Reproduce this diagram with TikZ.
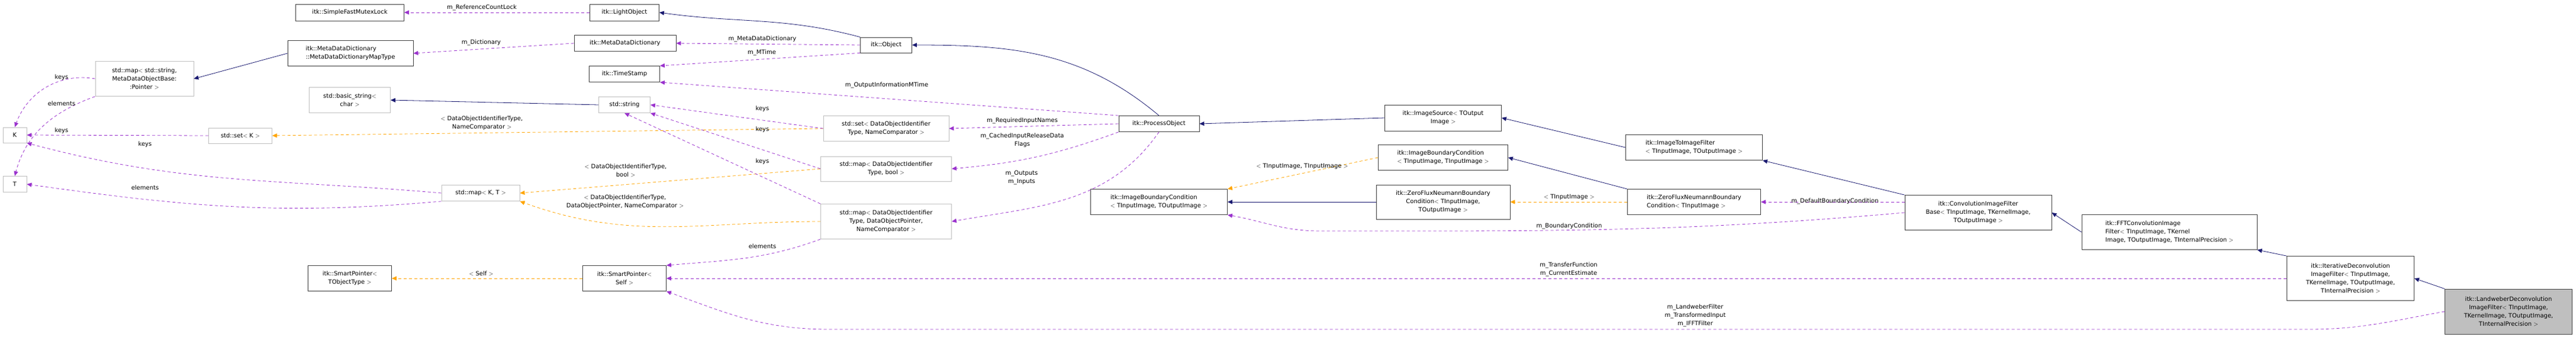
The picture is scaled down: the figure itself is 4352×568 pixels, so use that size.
\documentclass[tikz,border=0pt]{standalone}
\usepackage{fontspec}
\setmainfont{DejaVu Sans}
\usetikzlibrary{arrows.meta}
\definecolor{inhcol}{HTML}{191970}
\definecolor{usecol}{HTML}{9A32CD}
\definecolor{tplcol}{HTML}{FFA500}
\definecolor{boxgray}{HTML}{BFBFBF}
\tikzset{>={Triangle[length=8pt,width=7pt]},
  cls/.style={draw=black!75, line width=0.8pt, fill=white, inner sep=2pt,
    align=center, font=\fontsize{10}{14}\selectfont},
  ext/.style={cls, draw=boxgray},
  self/.style={cls, fill=boxgray},
  inh/.style={->, draw=inhcol, line width=0.8pt},
  use/.style={->, draw=usecol, dashed, line width=0.8pt, dash pattern=on 5pt off 4pt},
  tpl/.style={->, draw=tplcol, dashed, line width=0.8pt, dash pattern=on 5pt off 4pt},
  lbl/.style={align=center, font=\fontsize{10}{14}\selectfont, inner sep=1pt}}

\begin{document}
\begin{tikzpicture}[x=1pt,y=-1pt]
  \useasboundingbox (0,0) rectangle (4352,568);

  % classes
  \node [cls, minimum width=183, minimum height=28] (mutex) at (591,21) {itk::SimpleFastMutexLock};
  \node [cls, minimum width=117, minimum height=28] (lightobj) at (1055,21) {itk::LightObject};
  \node [cls, minimum width=212, minimum height=43, align=left] (maptype) at (592,90) {itk::MetaDataDictionary\\::MetaDataDictionaryMapType};
  \node [cls, minimum width=172, minimum height=27] (mdd) at (1056,73) {itk::MetaDataDictionary};
  \node [ext, minimum width=166, minimum height=59] (mapmdob) at (244,133) {std::map$<$ std::string,\\MetaDataObjectBase:\\:Pointer $>$};
  \node [cls, minimum width=119, minimum height=27] (timestamp) at (1055,125) {itk::TimeStamp};
  \node [cls, minimum width=87, minimum height=26] (object) at (1497,76) {itk::Object};
  \node [ext, minimum width=137, minimum height=43] (basicstr) at (591,169) {std::basic\_string$<$\\char $>$};
  \node [ext, minimum width=87, minimum height=27] (stdstring) at (1055,177) {std::string};
  \node [ext, minimum width=40, minimum height=26] (K) at (25,228) {K};
  \node [ext, minimum width=40, minimum height=27] (T) at (25,311) {T};
  \node [ext, minimum width=107, minimum height=26] (setK) at (406,229) {std::set$<$ K $>$};
  \node [ext, minimum width=212, minimum height=43] (setdoi) at (1497,217) {std::set$<$ DataObjectIdentifier\\Type, NameComparator $>$};
  \node [ext, minimum width=221, minimum height=42] (mapbool) at (1497,285) {std::map$<$ DataObjectIdentifier\\Type, bool $>$};
  \node [ext, minimum width=221, minimum height=59] (mapptr) at (1497,374) {std::map$<$ DataObjectIdentifier\\Type, DataObjectPointer,\\NameComparator $>$};
  \node [ext, minimum width=132, minimum height=27] (mapKT) at (812,326) {std::map$<$ K, T $>$};
  \node [cls, minimum width=141, minimum height=43] (sptobj) at (591,470) {itk::SmartPointer$<$\\TObjectType $>$};
  \node [cls, minimum width=141, minimum height=43] (spself) at (1055,470) {itk::SmartPointer$<$\\Self $>$};
  \node [cls, minimum width=136, minimum height=27] (procobj) at (1958,209) {itk::ProcessObject};
  \node [cls, minimum width=231, minimum height=43, align=left] (ibcout) at (1958,341) {itk::ImageBoundaryCondition\\$<$ TInputImage, TOutputImage $>$};
  \node [cls, minimum width=197, minimum height=44] (imgsrc) at (2438,199) {itk::ImageSource$<$ TOutput\\Image $>$};
  \node [cls, minimum width=219, minimum height=43, align=left] (ibcin) at (2438,266) {itk::ImageBoundaryCondition\\$<$ TInputImage, TInputImage $>$};
  \node [cls, minimum width=226, minimum height=58] (zfnout) at (2438,341) {itk::ZeroFluxNeumannBoundary\\Condition$<$ TInputImage,\\TOutputImage $>$};
  \node [cls, minimum width=231, minimum height=43, align=left] (i2i) at (2862,249) {itk::ImageToImageFilter\\$<$ TInputImage, TOutputImage $>$};
  \node [cls, minimum width=225, minimum height=43, align=left] (zfnin) at (2862,341) {itk::ZeroFluxNeumannBoundary\\Condition$<$ TInputImage $>$};
  \node [cls, minimum width=248, minimum height=59] (conv) at (3342,359) {itk::ConvolutionImageFilter\\Base$<$ TInputImage, TKernelImage,\\TOutputImage $>$};
  \node [cls, minimum width=296, minimum height=59, align=left] (fft) at (3665,392) {itk::FFTConvolutionImage\\Filter$<$ TInputImage, TKernel\\Image, TOutputImage, TInternalPrecision $>$};
  \node [cls, minimum width=215, minimum height=75] (iter) at (3971,470) {itk::IterativeDeconvolution\\ImageFilter$<$ TInputImage,\\TKernelImage, TOutputImage,\\TInternalPrecision $>$};
  \node [self, minimum width=215, minimum height=76] (land) at (4238,526) {itk::LandweberDeconvolution\\ImageFilter$<$ TInputImage,\\TKernelImage, TOutputImage,\\TInternalPrecision $>$};

  % inheritance
  \draw [inh] (object.north west) to[out=165,in=-8] (lightobj.east);
  \draw [inh] (maptype.west) -- (mapmdob.east);
  \draw [inh] (stdstring.west) -- (basicstr.east);
  \draw [inh] (procobj.north) to[out=140,in=0] (object.east);
  \draw [inh] (imgsrc.west) -- (procobj.east);
  \draw [inh] (i2i.west) -- (imgsrc.east);
  \draw [inh] (conv.north west) -- (i2i.south east);
  \draw [inh] (fft.west) -- (conv.east);
  \draw [inh] (iter.north west) -- (fft.south east);
  \draw [inh] (land.north west) -- (iter.east);
  \draw [inh] (zfnout.west) -- (ibcout.east);
  \draw [inh] (zfnin.north west) -- (ibcin.east);

  % templates
  \draw [tpl] (setdoi.west) -- (setK.east)
    node [lbl] at (814,208) {$<$ DataObjectIdentifierType,\\NameComparator $>$};
  \draw [tpl] (mapbool.west) -- (mapKT.east)
    node [lbl] at (1057,288) {$<$ DataObjectIdentifierType,\\bool $>$};
  \draw [tpl] (mapptr.west) to[out=180,in=-20] (mapKT.south east)
    node [lbl] at (1056,341) {$<$ DataObjectIdentifierType,\\DataObjectPointer, NameComparator $>$};
  \draw [tpl] (spself.west) -- (sptobj.east)
    node [lbl] at (813,462) {$<$ Self $>$};
  \draw [tpl] (ibcin.west) -- (ibcout.north east)
    node [lbl] at (2200,281) {$<$ TInputImage, TInputImage $>$};
  \draw [tpl] (zfnin.west) -- (zfnout.east)
    node [lbl] at (2651,333) {$<$ TInputImage $>$};

  % members
  \draw [use] (lightobj.west) -- (mutex.east)
    node [lbl] at (814,13) {m\_ReferenceCountLock};
  \draw [use] (mdd.west) -- (maptype.east)
    node [lbl] at (813,72) {m\_Dictionary};
  \draw [use] (object.west) -- (mdd.east)
    node [lbl] at (1288,66) {m\_MetaDataDictionary};
  \draw [use] (object.south west) -- (timestamp.north east)
    node [lbl] at (1287,89) {m\_MTime};
  \draw [use] (procobj.north west) -- (timestamp.south east)
    node [lbl] at (1498,144) {m\_OutputInformationMTime};
  \draw [use] (mapmdob.west) to[out=170,in=70] (K.north)
    node [lbl] at (104,131) {keys};
  \draw [use] (mapmdob.south west) to[out=200,in=75] (T.north)
    node [lbl] at (104,175) {elements};
  \draw [use] (setK.west) -- (K.east)
    node [lbl] at (104,221) {keys};
  \draw [use] (mapKT.west) to[out=175,in=-15] (K.south east)
    node [lbl] at (245,244) {keys};
  \draw [use] (mapKT.south west) to[out=185,in=-8] (T.east)
    node [lbl] at (245,317) {elements};
  \draw [use] (setdoi.west) -- (stdstring.east)
    node [lbl] at (1288,184) {keys};
  \draw [use] (mapbool.west) -- (stdstring.south east)
    node [lbl] at (1288,219) {keys};
  \draw [use] (mapptr.north west) -- (stdstring.south)
    node [lbl] at (1288,273) {keys};
  \draw [use] (mapptr.south west) to[out=200,in=5] (spself.north east)
    node [lbl] at (1288,416) {elements};
  \draw [use] (procobj.west) -- (setdoi.east)
    node [lbl] at (1727,204) {m\_RequiredInputNames};
  \draw [use] (procobj.south west) to[out=200,in=5] (mapbool.east)
    node [lbl] at (1727,237) {m\_CachedInputReleaseData\\Flags};
  \draw [use] (procobj.south) to[out=235,in=10] (mapptr.east)
    node [lbl] at (1726,300) {m\_Outputs\\m\_Inputs};
  \draw [use] (conv.west) to[out=185,in=0] (2230,390) to[out=180,in=-10] (ibcout.south east)
    node [lbl] at (2651,382) {m\_BoundaryCondition};
  \draw [use] (conv.west |- zfnin.east) -- (zfnin.east)
    node [lbl] at (3100,340) {m\_DefaultBoundaryCondition};
  \draw [use] (iter.west) -- (spself.east)
    node [lbl] at (2650,455) {m\_TransferFunction\\m\_CurrentEstimate};
  \draw [use] (land.west) to[out=190,in=0] (3900,556) -- (1400,556) to[out=180,in=-20] (spself.south east)
    node [lbl] at (2864,533) {m\_LandweberFilter\\m\_TransformedInput\\m\_IFFTFilter};
\end{tikzpicture}
\end{document}
